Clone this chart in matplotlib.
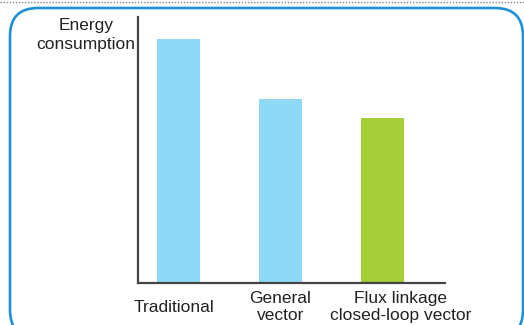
import matplotlib
matplotlib.use("Agg")
import matplotlib.pyplot as plt
from matplotlib.patches import FancyBboxPatch
from matplotlib.lines import Line2D
from matplotlib.transforms import blended_transform_factory, ScaledTranslation

categories = ["Traditional", "General\nvector", "Flux linkage\nclosed-loop vector"]
values = [244, 184, 165]
colors = ["#8fd8f6", "#8fd8f6", "#a6ce39"]

W, H = 524, 325
fig = plt.figure(figsize=(W / 100, H / 100), dpi=100)
plt.rcParams['font.family'] = ['Liberation Sans', 'DejaVu Sans']

# dotted top line
fig.add_artist(Line2D([0, 1], [1 - 2 / H, 1 - 2 / H], transform=fig.transFigure,
                      color="#888888", lw=1.0, ls=(0, (1, 1.2))))
# rounded frame (display coords)
r = 28
box = FancyBboxPatch((10, H - 8 - 330), 513, 330, boxstyle=f"round,pad=0,rounding_size={r}",
                     transform=None, fill=False, ec="#1e90d8", lw=1.9)
fig.add_artist(box)

ax = fig.add_axes([138 / W, 1 - 283 / H, (445 - 138) / W, (283 - 17) / H])
x = list(range(len(categories)))
ax.bar(x, values, width=0.42, color=colors)
ax.set_xlim(-0.397, 2.613)
ax.set_ylim(0, 266)
for s in ["top", "right"]:
    ax.spines[s].set_visible(False)
for s in ["left", "bottom"]:
    ax.spines[s].set_color("#444444")
    ax.spines[s].set_linewidth(1.6)
ax.set_yticks([])
ax.set_xticks([])
ax.patch.set_alpha(0)

label_dx = [-4, 0, 18]  # pixel offsets of labels
trans = blended_transform_factory(ax.transData, ax.transAxes)
for xi, lab, dx in zip(x, categories, label_dx):
    t = trans + ScaledTranslation(dx / 100, 0, fig.dpi_scale_trans)
    ax.text(xi, -24 / 266, lab, transform=t, ha="center", va="center",
            fontsize=12.5, color="#222222", linespacing=1.22, multialignment="center")

fig.text(86 / W, 1 - 35 / H, "Energy\nconsumption", ha="center", va="center",
         fontsize=12.5, color="#222222", linespacing=1.28)

fig.savefig("out.png", dpi=100)
